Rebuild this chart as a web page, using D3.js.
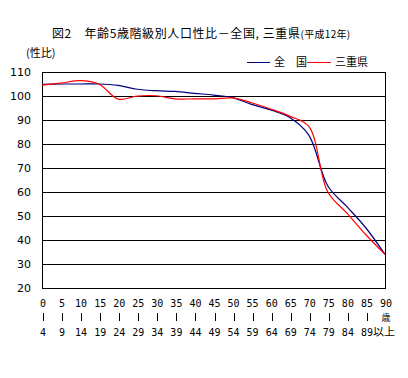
<!DOCTYPE html>
<html><head><meta charset="utf-8">
<script src="https://cdn.jsdelivr.net/npm/d3@7/dist/d3.min.js"></script>
<style>body{margin:0;background:#fff;} svg{display:block;font-family:"Noto Sans CJK JP","DejaVu Sans",sans-serif;}</style>
</head><body>
<script>
const ageStart = ["0","5","10","15","20","25","30","35","40","45","50","55","60","65","70","75","80","85","90"];
const ageEnd   = ["4","9","14","19","24","29","34","39","44","49","54","59","64","69","74","79","84","89","以上"];
const national = [104.9,105.0,105.0,105.0,104.4,102.8,102.2,101.9,101.1,100.4,99.3,96.5,94.2,91.0,83.7,62.5,53.9,45.0,34.0];
const mie      = [104.5,105.4,106.4,104.9,98.7,100.0,100.1,98.8,98.8,98.8,99.2,97.2,94.6,91.6,87.3,60.0,51.2,42.2,34.0];
const yTicks = [20,30,40,50,60,70,80,90,100,110];

const W=408,H=378;
const svg=d3.select("body").append("svg").attr("width",W).attr("height",H);
const x=d3.scalePoint().domain(d3.range(ageStart.length)).range([42,385]);
const y=d3.scaleLinear().domain([20,110]).range([288,72]);

// title
const t=svg.append("text").attr("x",52).attr("y",38).attr("font-size",12).attr("letter-spacing",0.6).attr("fill","#000");
t.append("tspan").text("図2　年齢5歳階級別人口性比－全国, 三重県");
t.append("tspan").attr("font-size",10).attr("letter-spacing",0.3).text("(平成12年)");
svg.append("text").attr("x",26).attr("y",57).attr("font-size",11).text("(性比)");

// gridlines
svg.append("g").selectAll("line").data(yTicks.filter(v=>v>20&&v<110)).join("line")
 .attr("x1",42).attr("x2",385).attr("y1",d=>y(d)+0.5).attr("y2",d=>y(d)+0.5)
 .attr("stroke","#000").attr("stroke-width",1);
svg.append("rect").attr("x",42.5).attr("y",72.5).attr("width",343).attr("height",216)
 .attr("fill","none").attr("stroke","#000").attr("stroke-width",1);

// y axis labels
const yAxis=d3.axisLeft(y).tickValues(yTicks).tickSize(0).tickPadding(11);
const ya=svg.append("g").attr("transform","translate(42,0)").call(yAxis);
ya.select(".domain").remove();
ya.selectAll("text").attr("font-size",11).attr("font-family","DejaVu Sans, sans-serif").attr("fill","#000");

// x labels
const xl=svg.append("g").attr("font-size",10).attr("font-family","DejaVu Sans Mono, monospace").attr("text-anchor","middle");
ageStart.forEach((s,i)=>{
  const cx=x(i)+1;
  xl.append("text").attr("x",cx).attr("y",307).text(s);
  if(i<ageStart.length-1){
    xl.append("line").attr("x1",Math.round(cx)+0.5).attr("x2",Math.round(cx)+0.5).attr("y1",313).attr("y2",321).attr("stroke","#000").attr("stroke-width",1);
    xl.append("text").attr("x",cx).attr("y",336).text(ageEnd[i]);
  } else {
    xl.append("text").attr("x",cx).attr("y",321).attr("font-size",9).attr("font-family","Noto Sans CJK JP").text("歳");
    xl.append("text").attr("x",cx-2).attr("y",336).attr("font-size",11).attr("font-family","Noto Sans CJK JP").text(ageEnd[i]);
  }
});

// lines
const line=d3.line().x((d,i)=>x(i)).y(d=>y(d)).curve(d3.curveCatmullRom.alpha(0.5));
svg.append("path").datum(national).attr("d",line).attr("fill","none").attr("stroke","#000080").attr("stroke-width",1.2);
svg.append("path").datum(mie).attr("d",line).attr("fill","none").attr("stroke","#ff0000").attr("stroke-width",1.2);

// legend
const lg=svg.append("g").attr("font-size",11);
lg.append("line").attr("x1",247).attr("x2",270).attr("y1",62.5).attr("y2",62.5).attr("stroke","#000080");
lg.append("text").attr("x",274).attr("y",66).text("全　国");
lg.append("line").attr("x1",307).attr("x2",331).attr("y1",62.5).attr("y2",62.5).attr("stroke","#ff0000");
lg.append("text").attr("x",335).attr("y",66).text("三重県");
</script>
</body></html>
